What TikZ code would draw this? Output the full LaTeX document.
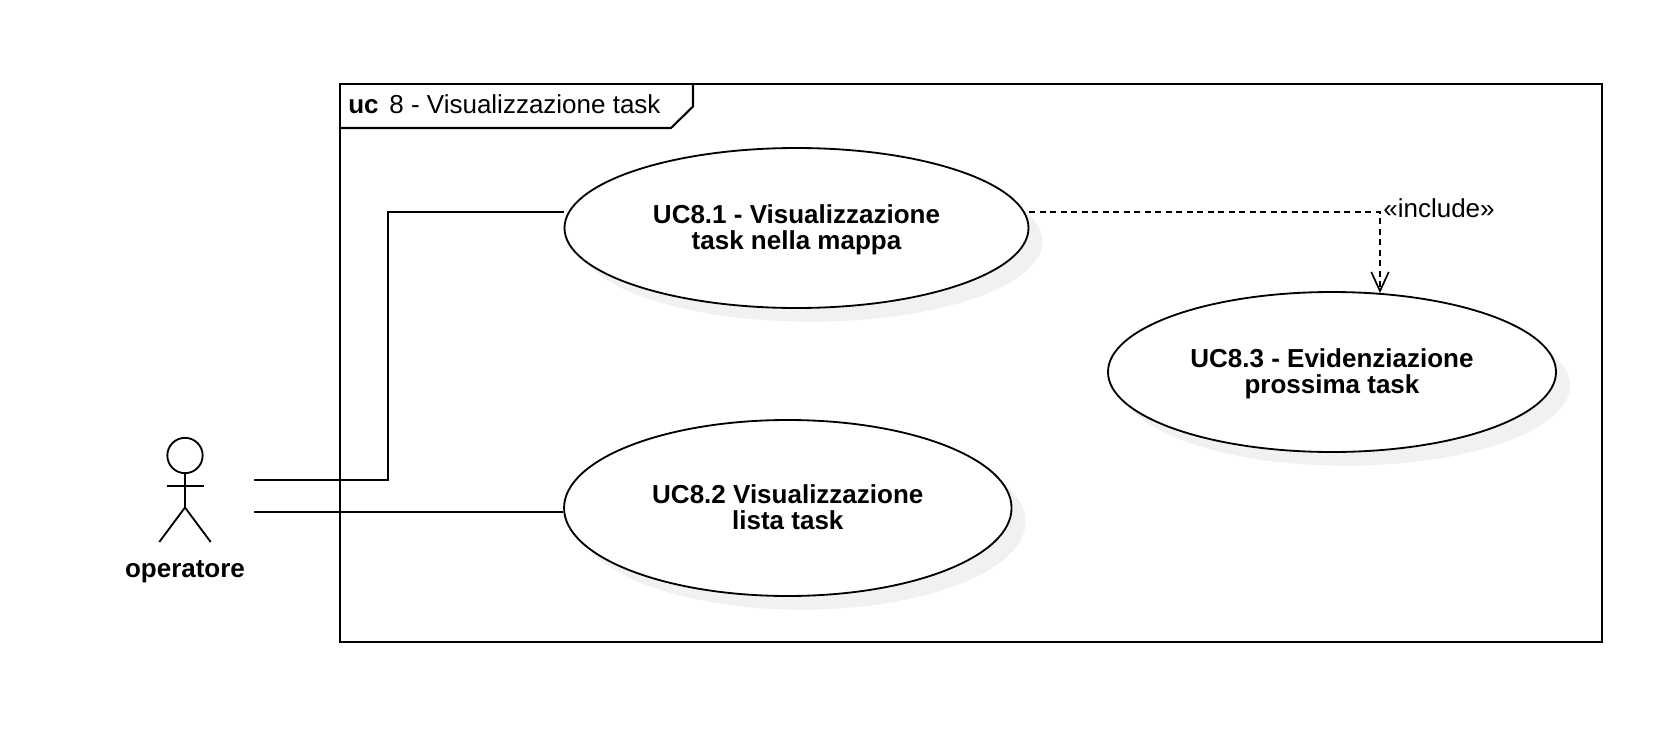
\documentclass[tikz,border=0pt]{standalone}
\usepackage{fontspec}
\setmainfont{Liberation Sans}
\usetikzlibrary{shapes.geometric,arrows.meta,shadows}
\definecolor{shadowgrey}{HTML}{F1F1F1}
\tikzset{
  x=0.6pt,y=-0.6pt,
  line/.style={draw=black,line width=1.25pt},
  frame/.style={rectangle,draw=black,line width=1.25pt,minimum width=757pt,minimum height=334.5pt,inner sep=0pt},
  usecase/.style={ellipse,draw=black,fill=white,line width=1.1pt,inner sep=0pt,align=center,
    font=\fontsize{15.6}{15.55}\selectfont\bfseries,
    general shadow={fill=shadowgrey,shadow xshift=8.4pt,shadow yshift=-8.2pt}},
  label/.style={inner sep=0pt,font=\fontsize{15.6}{15.9}\selectfont},
  actorline/.style={draw=black,line width=1.1pt},
  dep/.style={draw=black,line width=1.2pt,dash pattern=on 3.6pt off 2.7pt},
  opentip/.style={-{Straight Barb[length=11.5pt,width=10.5pt,line width=1pt]},shorten >=-1.2pt}
}
\begin{document}
\begin{tikzpicture}
\useasboundingbox (0,0) rectangle (1666,734);
\fill[white] (0,0) rectangle (1666,734);

% frame
\node[frame,anchor=north west] (frame) at (339,83) {};
\draw[line] (339,128) -- (671,128) -- (693,106.5) -- (693,83);
\node[label,anchor=west] (title) at (348,104.5) {\textbf{uc}\hspace{6.4pt}8 - Visualizzazione task};

% free connector points
\coordinate (oa) at (254,480);
\coordinate (ob) at (254,512);
\coordinate (bend) at (388,212);
\coordinate (dbend) at (1380,212);

% use cases
\node[usecase,minimum width=278.4pt,minimum height=96pt] (u1) at (796.5,228) {\rule{0pt}{13pt}UC8.1 - Visualizzazione\\task nella mappa};
\node[usecase,minimum width=268.8pt,minimum height=96pt] (u3) at (1332,372) {\rule{0pt}{13pt}UC8.3 - Evidenziazione\\prossima task};
\node[usecase,minimum width=268.5pt,minimum height=105.6pt] (u2) at (787.8,508) {UC8.2 Visualizzazione\\lista task\rule[-1.4pt]{0pt}{1.4pt}};

\draw[line] (oa) -| (bend) -- (u1.west |- bend);
\draw[line] (ob) -- (u2.west |- ob);
\draw[dep,opentip] (u1.east |- dbend) -- (dbend) -- (dbend |- u3.north);
\node[label,anchor=west] (inc) at (1383,208) {«include»};

% actor
\node[circle,actorline,minimum size=21.2pt,inner sep=0pt] (head) at (185,455.5) {};
\coordinate (hip) at (185,507.5);
\coordinate (larm) at (166.5,485.7);
\coordinate (rarm) at (203.7,485.7);
\coordinate (lfoot) at (159.3,542);
\coordinate (rfoot) at (210.7,542);
\draw[actorline] (head.south) -- (hip);
\draw[actorline] (larm) -- (rarm);
\draw[actorline] (lfoot) -- (hip) -- (rfoot);
\node[label,font=\fontsize{15.6}{15.9}\selectfont\bfseries] (actor) at (185,571.5) {operatore};
\end{tikzpicture}
\end{document}
